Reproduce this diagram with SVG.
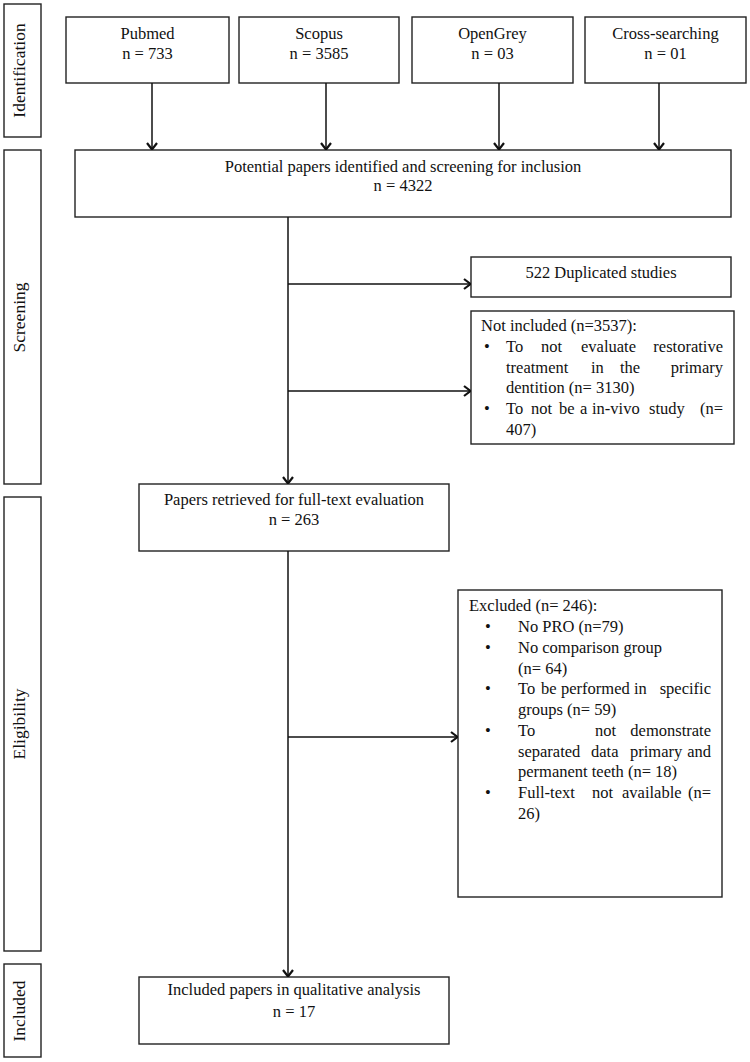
<svg xmlns="http://www.w3.org/2000/svg" width="750" height="1062" viewBox="0 0 750 1062">
<style>
.box{fill:#fff;stroke:#222;stroke-width:1.4}
.t{font-family:"Liberation Serif","Times New Roman",serif;font-size:16.5px;fill:#111}
.c{text-anchor:middle}
.e{text-anchor:end}
.side{font-family:"Liberation Serif","Times New Roman",serif;font-size:17.5px;fill:#111;text-anchor:middle}
.ln{fill:none;stroke:#111;stroke-width:1.5}
</style>
<defs>
<marker id="ah" viewBox="0 0 10 12" refX="10" refY="6" markerWidth="10" markerHeight="12" markerUnits="userSpaceOnUse" orient="auto">
<path d="M3,1 L9.5,6 L3,11" fill="none" stroke="#111" stroke-width="2.2"/>
</marker>
</defs>
<rect width="750" height="1062" fill="#fff"/>

<g id="side-identification"><rect class="box" x="4" y="4" width="37" height="133"/><text class="side" transform="translate(25,70.5) rotate(-90)">Identification</text></g>
<g id="side-screening"><rect class="box" x="4" y="150" width="37" height="334"/><text class="side" transform="translate(25,317.5) rotate(-90)">Screening</text></g>
<g id="side-eligibility"><rect class="box" x="4" y="497" width="37" height="454"/><text class="side" transform="translate(25,724) rotate(-90)">Eligibility</text></g>
<g id="side-included"><rect class="box" x="4" y="964" width="37" height="93"/><text class="side" transform="translate(25,1011) rotate(-90)">Included</text></g>

<g id="pubmed"><rect class="box" x="66" y="17" width="163" height="66"/><text class="t c" x="147.5" y="39">Pubmed</text><text class="t c" x="147.5" y="59">n = 733</text></g>
<g id="scopus"><rect class="box" x="239" y="17" width="160" height="66"/><text class="t c" x="319" y="39">Scopus</text><text class="t c" x="319" y="59">n = 3585</text></g>
<g id="opengrey"><rect class="box" x="412" y="17" width="161" height="66"/><text class="t c" x="492.5" y="39">OpenGrey</text><text class="t c" x="492.5" y="59">n = 03</text></g>
<g id="cross"><rect class="box" x="585" y="17" width="161" height="66"/><text class="t c" x="665.5" y="39">Cross-searching</text><text class="t c" x="665.5" y="59">n = 01</text></g>

<g id="potential"><rect class="box" x="75" y="150" width="656" height="67"/><text class="t c" x="403" y="172">Potential papers identified and screening for inclusion</text><text class="t c" x="403" y="191">n = 4322</text></g>

<g id="duplicated"><rect class="box" x="471" y="257" width="260" height="40"/><text class="t c" x="601" y="278">522 Duplicated studies</text></g>

<g id="notincluded"><rect class="box" x="471" y="311" width="263" height="133"/>
<text class="t" x="481" y="331">Not included (n=3537):</text>
<text class="t" x="484" y="352">•</text>
<text class="t" y="352"><tspan x="506">To</tspan><tspan x="541">not</tspan><tspan x="581">evaluate</tspan><tspan class="e" x="723">restorative</tspan></text>
<text class="t" y="373"><tspan x="506">treatment</tspan><tspan x="591">in</tspan><tspan x="620">the</tspan><tspan class="e" x="723">primary</tspan></text>
<text class="t" x="506" y="393">dentition (n= 3130)</text>
<text class="t" x="484" y="414">•</text>
<text class="t" y="414"><tspan x="506">To</tspan><tspan x="531">not</tspan><tspan x="559">be</tspan><tspan x="580">a</tspan><tspan x="592">in-vivo</tspan><tspan x="649">study</tspan><tspan class="e" x="723">(n=</tspan></text>
<text class="t" x="506" y="435">407)</text>
</g>

<g id="retrieved"><rect class="box" x="139" y="484" width="310" height="67"/><text class="t c" x="294" y="505">Papers retrieved for full-text evaluation</text><text class="t c" x="294" y="525">n = 263</text></g>

<g id="excluded"><rect class="box" x="458" y="590" width="264" height="307"/>
<text class="t" x="469" y="611">Excluded (n= 246):</text>
<text class="t" x="485" y="632">•</text><text class="t" x="518" y="632">No PRO (n=79)</text>
<text class="t" x="485" y="653">•</text><text class="t" x="518" y="653">No comparison group</text>
<text class="t" x="518" y="674">(n= 64)</text>
<text class="t" x="485" y="694">•</text>
<text class="t" y="694"><tspan x="518">To</tspan><tspan x="541">be</tspan><tspan x="561">performed</tspan><tspan x="634">in</tspan><tspan class="e" x="711">specific</tspan></text>
<text class="t" x="518" y="715">groups (n= 59)</text>
<text class="t" x="485" y="736">•</text>
<text class="t" y="736"><tspan x="518">To</tspan><tspan x="595">not</tspan><tspan class="e" x="711">demonstrate</tspan></text>
<text class="t" y="757"><tspan x="518">separated</tspan><tspan x="591">data</tspan><tspan x="630">primary</tspan><tspan class="e" x="711">and</tspan></text>
<text class="t" x="518" y="777">permanent teeth (n= 18)</text>
<text class="t" x="485" y="798">•</text>
<text class="t" y="798"><tspan x="518">Full-text</tspan><tspan x="592">not</tspan><tspan x="622">available</tspan><tspan class="e" x="711">(n=</tspan></text>
<text class="t" x="518" y="819">26)</text>
</g>

<g id="included"><rect class="box" x="139" y="977" width="310" height="67"/><text class="t c" x="294" y="995">Included papers in qualitative analysis</text><text class="t c" x="294" y="1017">n = 17</text></g>

<g id="connectors">
<line class="ln" x1="152" y1="83" x2="152" y2="150" marker-end="url(#ah)"/>
<line class="ln" x1="326" y1="83" x2="326" y2="150" marker-end="url(#ah)"/>
<line class="ln" x1="499" y1="83" x2="499" y2="150" marker-end="url(#ah)"/>
<line class="ln" x1="659" y1="83" x2="659" y2="150" marker-end="url(#ah)"/>
<line class="ln" x1="288" y1="217" x2="288" y2="484" marker-end="url(#ah)"/>
<line class="ln" x1="288" y1="284" x2="471" y2="284" marker-end="url(#ah)"/>
<line class="ln" x1="288" y1="391" x2="471" y2="391" marker-end="url(#ah)"/>
<line class="ln" x1="288" y1="551" x2="288" y2="977" marker-end="url(#ah)"/>
<line class="ln" x1="288" y1="737" x2="458" y2="737" marker-end="url(#ah)"/>
</g>
</svg>
